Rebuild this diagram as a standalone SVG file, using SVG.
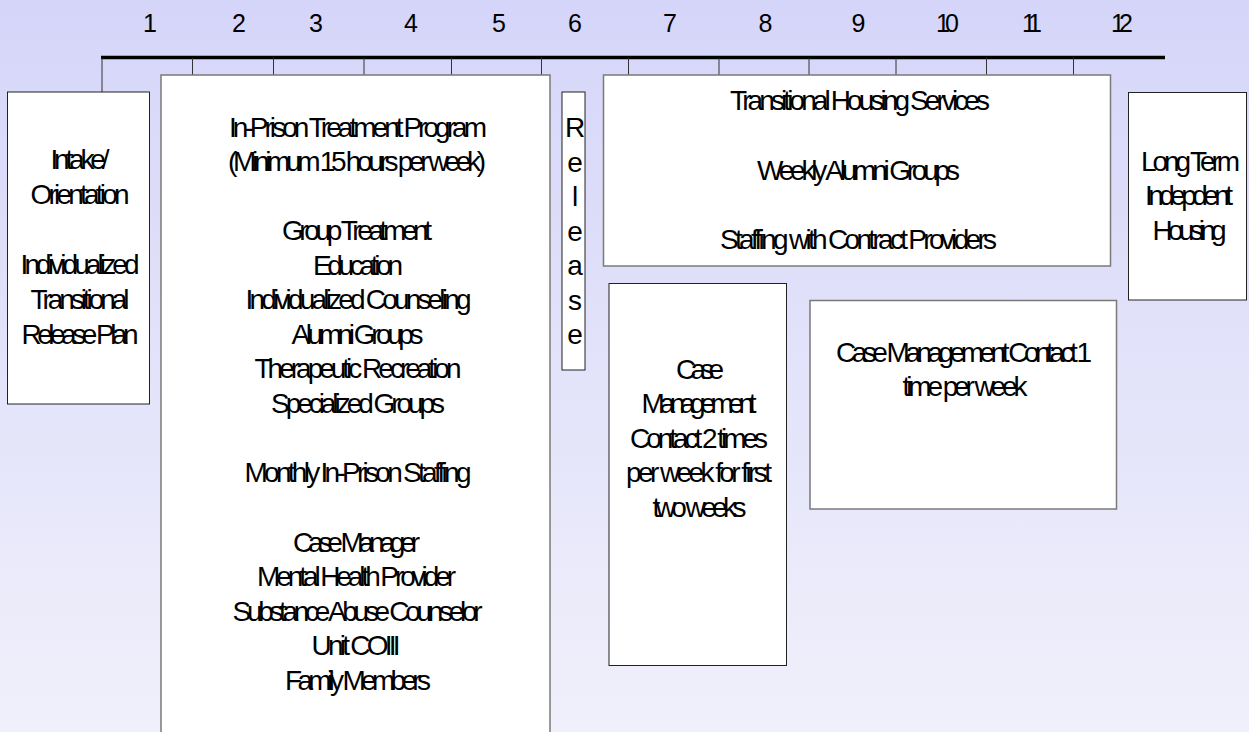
<svg xmlns="http://www.w3.org/2000/svg" width="1249" height="732" viewBox="0 0 1249 732">
<defs>
<linearGradient id="bg" x1="0" y1="0" x2="0" y2="1">
<stop offset="0" stop-color="#D5D5F9"/>
<stop offset="1" stop-color="#F0F0FB"/>
</linearGradient>
</defs>
<style>
.t{font-family:"Liberation Sans",Arial,sans-serif;font-size:28px;fill:#000;text-anchor:middle}
.n{font-family:"Liberation Sans",Arial,sans-serif;font-size:25px;fill:#000;text-anchor:middle}
.bx{fill:#fff;stroke:#222;stroke-width:1}
.bg2{fill:#fff;stroke:#7a7a7a;stroke-width:1.5}
.tk{stroke:#333;stroke-width:1;fill:none}
</style>
<rect x="0" y="0" width="1249" height="732" fill="url(#bg)"/>

<g id="timeline">
<line x1="101" y1="57.5" x2="1165" y2="57.5" stroke="#000" stroke-width="3.5"/>
<text class="n" x="150" y="32">1</text>
<text class="n" x="239" y="32">2</text>
<text class="n" x="316" y="32">3</text>
<text class="n" x="411" y="32">4</text>
<text class="n" x="499" y="32">5</text>
<text class="n" x="575" y="32">6</text>
<text class="n" x="670" y="32">7</text>
<text class="n" x="765.5" y="32">8</text>
<text class="n" x="858.5" y="32">9</text>
<text class="n" x="947.5" y="32" textLength="23" lengthAdjust="spacing">10</text>
<text class="n" x="1032" y="32" textLength="20" lengthAdjust="spacing">11</text>
<text class="n" x="1122" y="32" textLength="22" lengthAdjust="spacing">12</text>
</g>

<g id="connectors">
<line class="tk" x1="102" y1="58" x2="102" y2="92"/>
<line class="tk" x1="192.5" y1="58" x2="192.5" y2="75"/>
<line class="tk" x1="273.5" y1="58" x2="273.5" y2="75"/>
<line class="tk" x1="364" y1="58" x2="364" y2="75"/>
<line class="tk" x1="451.5" y1="58" x2="451.5" y2="75"/>
<line class="tk" x1="541.5" y1="58" x2="541.5" y2="75"/>
<line class="tk" x1="628.5" y1="58" x2="628.5" y2="75"/>
<line class="tk" x1="719" y1="58" x2="719" y2="75"/>
<line class="tk" x1="809" y1="58" x2="809" y2="75"/>
<line class="tk" x1="896" y1="58" x2="896" y2="75"/>
<line class="tk" x1="986.5" y1="58" x2="986.5" y2="75"/>
<line class="tk" x1="1073.5" y1="58" x2="1073.5" y2="75"/>
</g>

<g id="intake">
<rect class="bx" x="7.5" y="92" width="142" height="312"/>
<text class="t" x="80" y="168.5" textLength="59" lengthAdjust="spacing">Intake/</text>
<text class="t" x="80" y="203.5" textLength="99" lengthAdjust="spacing">Orientation</text>
<text class="t" x="80" y="273.5" textLength="119" lengthAdjust="spacing">Individualized</text>
<text class="t" x="80" y="308.5" textLength="99" lengthAdjust="spacing">Transitional</text>
<text class="t" x="80" y="343.5" textLength="117" lengthAdjust="spacing">Release Plan</text>
</g>

<g id="in-prison">
<rect class="bg2" x="161" y="75" width="389" height="670"/>
<text class="t" x="358" y="136.5" textLength="258" lengthAdjust="spacing">In-Prison Treatment Program</text>
<text class="t" x="357" y="171" textLength="258" lengthAdjust="spacing">(Minimum 15 hours per week)</text>
<text class="t" x="357" y="240" textLength="150" lengthAdjust="spacing">Group Treatment</text>
<text class="t" x="358" y="274.5" textLength="90" lengthAdjust="spacing">Education</text>
<text class="t" x="358.5" y="309" textLength="226" lengthAdjust="spacing">Individualized Counseling</text>
<text class="t" x="357.5" y="343.5" textLength="132" lengthAdjust="spacing">Alumni Groups</text>
<text class="t" x="358" y="378" textLength="207" lengthAdjust="spacing">Therapeutic Recreation</text>
<text class="t" x="358" y="412.5" textLength="174" lengthAdjust="spacing">Specialized Groups</text>
<text class="t" x="358" y="482" textLength="227" lengthAdjust="spacing">Monthly In-Prison Staffing</text>
<text class="t" x="356.5" y="551.5" textLength="127" lengthAdjust="spacing">Case Manager</text>
<text class="t" x="356.5" y="586" textLength="199" lengthAdjust="spacing">Mental Health Provider</text>
<text class="t" x="357.5" y="620.5" textLength="250" lengthAdjust="spacing">Substance Abuse Counselor</text>
<text class="t" x="356" y="655" textLength="89" lengthAdjust="spacing">Unit COIII</text>
<text class="t" x="358" y="689.5" textLength="146" lengthAdjust="spacing">Family Members</text>
</g>

<g id="release">
<rect class="bx" x="562" y="92" width="23" height="278"/>
<text class="t" x="575" y="137">R</text>
<text class="t" x="575" y="171.5">e</text>
<text class="t" x="575" y="206">l</text>
<text class="t" x="575" y="240.5">e</text>
<text class="t" x="575" y="275">a</text>
<text class="t" x="575" y="309.5">s</text>
<text class="t" x="575" y="344">e</text>
</g>

<g id="transitional-housing">
<rect class="bg2" x="603.5" y="75" width="507" height="191"/>
<text class="t" x="860" y="110" textLength="260" lengthAdjust="spacing">Transitional Housing Services</text>
<text class="t" x="858.5" y="179.5" textLength="203" lengthAdjust="spacing">Weekly Alumni Groups</text>
<text class="t" x="858.5" y="248.5" textLength="277" lengthAdjust="spacing">Staffing with Contract Providers</text>
</g>

<g id="case-mgmt-2">
<rect class="bx" x="609" y="283.5" width="177.5" height="382"/>
<text class="t" x="700" y="378.5" textLength="48" lengthAdjust="spacing">Case</text>
<text class="t" x="699" y="413" textLength="115" lengthAdjust="spacing">Management</text>
<text class="t" x="699" y="447.5" textLength="138" lengthAdjust="spacing">Contact 2 times</text>
<text class="t" x="699" y="482" textLength="146" lengthAdjust="spacing">per week for first</text>
<text class="t" x="699.5" y="516.5" textLength="94" lengthAdjust="spacing">two weeks</text>
</g>

<g id="case-mgmt-1">
<rect class="bg2" x="810" y="300.5" width="306.5" height="208.5"/>
<text class="t" x="964" y="361.5" textLength="256" lengthAdjust="spacing">Case Management Contact 1</text>
<text class="t" x="965" y="395.5" textLength="125" lengthAdjust="spacing">time per week</text>
</g>

<g id="long-term">
<rect class="bx" x="1128.5" y="92.5" width="118" height="207.5"/>
<text class="t" x="1190.5" y="170.5" textLength="99" lengthAdjust="spacing">Long Term</text>
<text class="t" x="1189" y="205" textLength="88" lengthAdjust="spacing">Indepdent</text>
<text class="t" x="1189.5" y="239.5" textLength="74" lengthAdjust="spacing">Housing</text>
</g>
</svg>
